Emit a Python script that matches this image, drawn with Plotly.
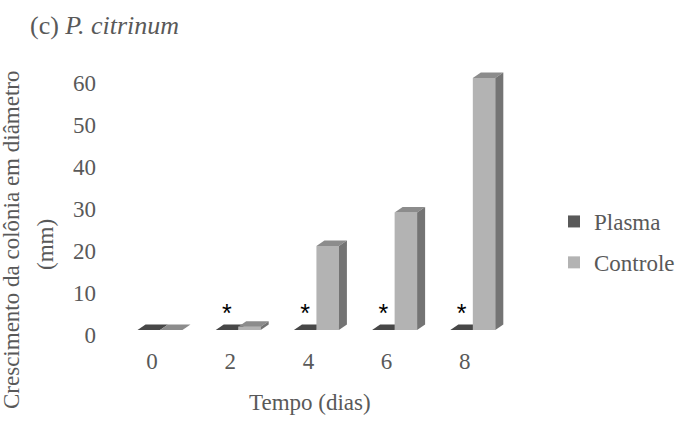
import plotly.graph_objects as go

# ---------------- data ----------------
dias = [0, 2, 4, 6, 8]
tick_labels = ["0", "2", "4", "6", "8"]
plasma = [0, 0, 0, 0, 0]
controle = [0, 0.8, 20, 28, 60]
signif = ["", "*", "*", "*", "*"]
y_ticks = [0, 10, 20, 30, 40, 50, 60]

# ---------------- style ----------------
FONT = "Liberation Serif, Times New Roman, serif"
FS = 23
TXT = "#595959"
C_PLASMA = "#595959"
C_PLASMA_TOP = "#474747"
C_CTRL = "#b3b3b3"
C_CTRL_TOP = "#8c8c8c"
C_CTRL_SIDE = "#747474"

W = 0.575      # bar width (x units)
SHIFT = 0.205  # bars shifted right (3D perspective)
DX = 0.205     # depth in x units
DY = 1.31      # depth in y units

L, R, T, B = 97, 156, 60, 76
plot_w = 681 - L - R
plot_h = 421 - T - B
PX_PER_UNIT = 4.2

fig = go.Figure()
fig.add_trace(go.Bar(x=dias, y=plasma, name="Plasma", width=W, offset=SHIFT - W,
                     marker=dict(color=C_PLASMA, line=dict(width=0)), legendgroup="a"))
fig.add_trace(go.Bar(x=dias, y=controle, name="Controle", width=W, offset=SHIFT,
                     marker=dict(color=C_CTRL, line=dict(width=0)), legendgroup="b"))

# significance markers above Plasma bars
fig.add_trace(go.Scatter(
    x=[d + SHIFT - W / 2 for d in dias],
    y=[p + 3.3 for p in plasma],
    mode="text", text=signif, textposition="middle center",
    textfont=dict(family="Liberation Sans", size=25, color="#000000"),
    showlegend=False, hoverinfo="skip"))

# invisible carrier so the label axis (back-wall scale) is drawn
fig.add_trace(go.Scatter(x=[dias[0]] * len(y_ticks), y=y_ticks, yaxis="y2",
                         mode="markers", marker=dict(opacity=0, size=1),
                         showlegend=False, hoverinfo="skip"))

# 3D faces derived from data values
shapes = []
def poly(pts):
    return "M " + " L ".join(f"{x},{y}" for x, y in pts) + " Z"

for d, p, c in zip(dias, plasma, controle):
    x0, x1 = d + SHIFT - W, d + SHIFT
    shapes.append(dict(type="path", xref="x", yref="y", layer="below",
                       path=poly([(x0, p), (x1, p), (x1 + DX, p + DY), (x0 + DX, p + DY)]),
                       fillcolor=C_PLASMA_TOP, line=dict(width=0)))
    x0, x1 = d + SHIFT, d + SHIFT + W
    shapes.append(dict(type="path", xref="x", yref="y", layer="above",
                       path=poly([(x0, c), (x1, c), (x1 + DX, c + DY), (x0 + DX, c + DY)]),
                       fillcolor=C_CTRL_TOP, line=dict(width=0)))
    shapes.append(dict(type="path", xref="x", yref="y", layer="above",
                       path=poly([(x1, 0), (x1, c), (x1 + DX, c + DY), (x1 + DX, DY)]),
                       fillcolor=C_CTRL_SIDE, line=dict(width=0)))

fig.update_layout(
    width=681, height=421,
    margin=dict(l=L, r=R, t=T, b=B, autoexpand=False),
    paper_bgcolor="white", plot_bgcolor="white",
    barmode="overlay",
    font=dict(family=FONT, size=FS, color=TXT),
    shapes=shapes,
    showlegend=True,
    legend=dict(x=(554 - L) / plot_w, y=(421 - B - 200) / plot_h,
                xanchor="left", yanchor="top",
                font=dict(family=FONT, size=FS, color=TXT),
                traceorder="grouped", tracegroupgap=8,
                itemwidth=30, bgcolor="rgba(0,0,0,0)"),
    xaxis=dict(range=[(L - 152) / 39.1, (681 - R - 152) / 39.1],
               tickvals=dias, ticktext=tick_labels,
               showgrid=False, zeroline=False, showline=False, ticks="",
               tickfont=dict(family=FONT, size=FS, color=TXT)),
    # value axis used by the bars (floor front edge at 0)
    yaxis=dict(range=[(330 - (421 - B)) / PX_PER_UNIT, (330 - T) / PX_PER_UNIT],
               showticklabels=False, showgrid=False, zeroline=False,
               showline=False, ticks=""),
    # same scale, labels aligned to the back wall like the original
    yaxis2=dict(overlaying="y", side="left", anchor="x",
                range=[(335 - (421 - B)) / PX_PER_UNIT, (335 - T) / PX_PER_UNIT],
                tickvals=y_ticks, showgrid=False, zeroline=False,
                showline=False, ticks="",
                tickfont=dict(family=FONT, size=FS, color=TXT)),
    annotations=[
        dict(text="(c) <i>P. citrinum</i>", xref="paper", yref="paper",
             x=(28 - L) / plot_w, y=(421 - B - 25) / plot_h,
             xanchor="left", yanchor="middle", showarrow=False,
             font=dict(family=FONT, size=26, color=TXT)),
        dict(text="Tempo (dias)", xref="paper", yref="paper",
             x=(310 - L) / plot_w, y=(421 - B - 402) / plot_h,
             xanchor="center", yanchor="middle", showarrow=False,
             font=dict(family=FONT, size=FS, color=TXT)),
        dict(text="Crescimento da colônia em diâmetro", xref="paper", yref="paper",
             x=(11 - L) / plot_w, y=(421 - B - 240) / plot_h, textangle=-90,
             xanchor="center", yanchor="middle", showarrow=False,
             font=dict(family=FONT, size=FS, color=TXT)),
        dict(text="(mm)", xref="paper", yref="paper",
             x=(45 - L) / plot_w, y=(421 - B - 245) / plot_h, textangle=-90,
             xanchor="center", yanchor="middle", showarrow=False,
             font=dict(family=FONT, size=FS, color=TXT)),
    ],
)

fig.write_html("out.html")
